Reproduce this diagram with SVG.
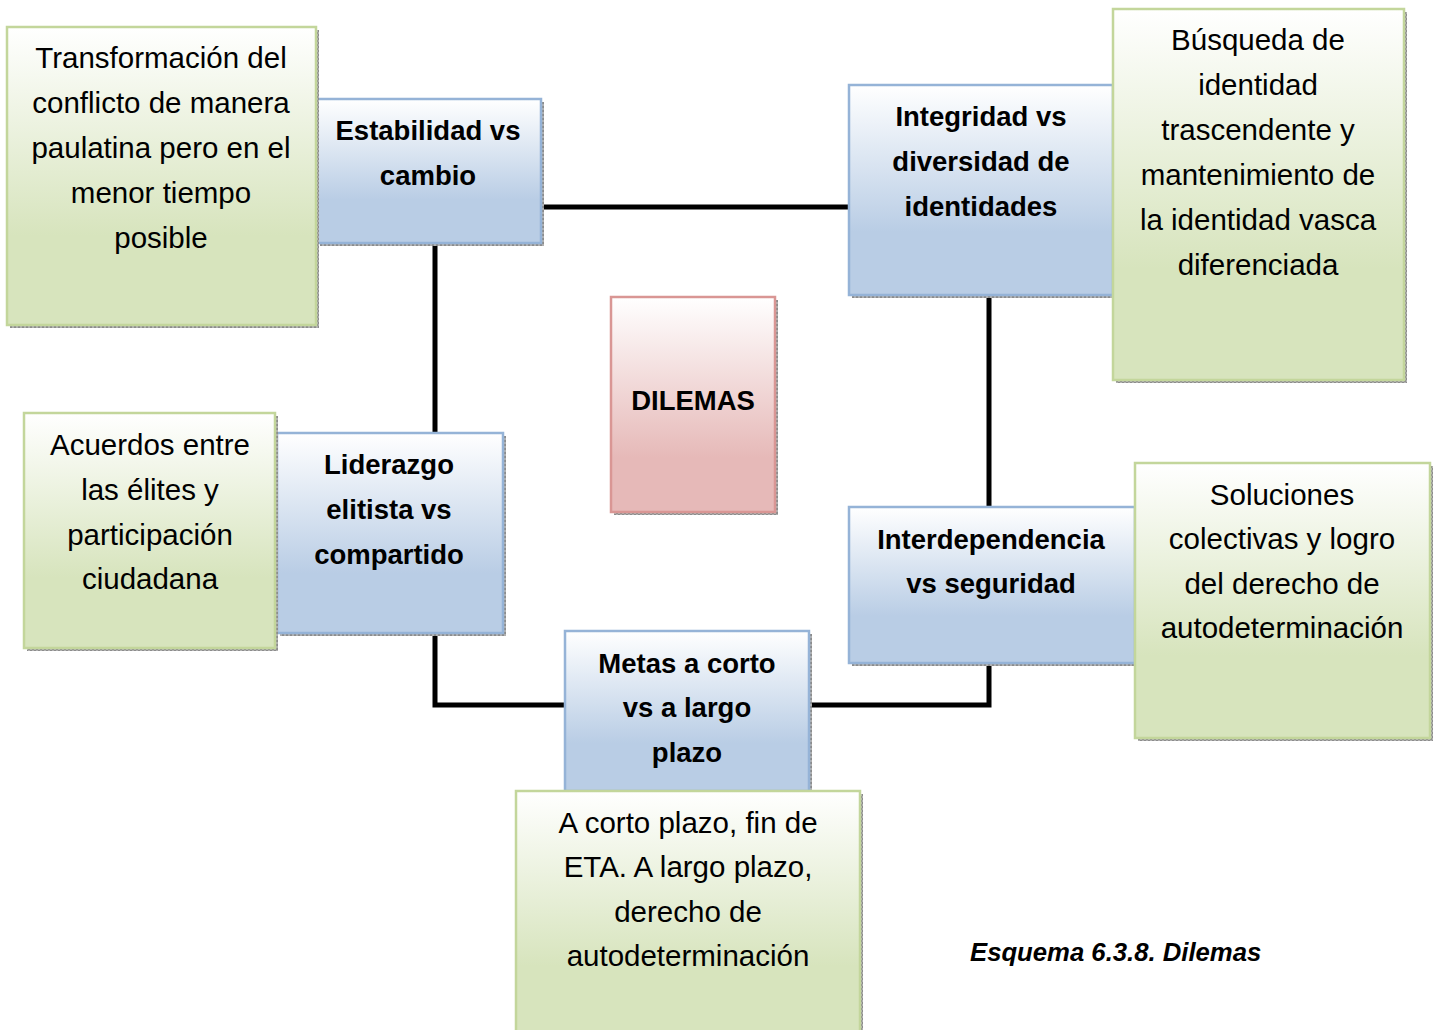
<svg xmlns="http://www.w3.org/2000/svg" width="1439" height="1030" viewBox="0 0 1439 1030">
<defs>
<linearGradient id="gBlue" x1="0" y1="0" x2="0" y2="1">
<stop offset="0" stop-color="#ffffff"/><stop offset="0.7" stop-color="#b9cde5"/><stop offset="1" stop-color="#b9cde5"/>
</linearGradient>
<linearGradient id="gGreen" x1="0" y1="0" x2="0" y2="1">
<stop offset="0" stop-color="#ffffff"/><stop offset="0.7" stop-color="#d7e4bd"/><stop offset="1" stop-color="#d7e4bd"/>
</linearGradient>
<linearGradient id="gRed" x1="0" y1="0" x2="0" y2="1">
<stop offset="0" stop-color="#ffffff"/><stop offset="0.75" stop-color="#e6b9b8"/><stop offset="1" stop-color="#e6b9b8"/>
</linearGradient>
<pattern id="hatch" width="4" height="4" patternUnits="userSpaceOnUse">
<rect width="4" height="4" fill="#b0b0b0"/><rect width="2" height="2" fill="#8c8c8c"/><rect x="2" y="2" width="2" height="2" fill="#8c8c8c"/>
</pattern>
</defs>
<style>
.sh{fill:url(#hatch);}
.blue{fill:url(#gBlue);stroke:#95b3d7;stroke-width:2.5;}
.green{fill:url(#gGreen);stroke:#c3d69b;stroke-width:2.5;}
.red{fill:url(#gRed);stroke:#d99694;stroke-width:2.5;}
.t{font-family:"Liberation Sans",Arial,sans-serif;font-size:29.5px;fill:#000;text-anchor:middle;}
.b{font-family:"Liberation Sans",Arial,sans-serif;font-size:27.5px;font-weight:bold;fill:#000;text-anchor:middle;}
.conn{fill:none;stroke:#000;stroke-width:5;stroke-linejoin:miter;}
</style>
<rect width="1439" height="1030" fill="#ffffff"/>

<g id="connectors">
<line class="conn" x1="541" y1="207" x2="849" y2="207"/>
<line class="conn" x1="435" y1="243" x2="435" y2="433"/>
<line class="conn" x1="989" y1="295" x2="989" y2="507"/>
<polyline class="conn" points="435,633 435,705 565,705"/>
<polyline class="conn" points="809,705 989,705 989,663"/>
</g>

<g id="n-estabilidad">
<rect class="sh" x="320" y="102" width="224" height="144"/>
<rect class="blue" x="317" y="99" width="224" height="144"/>
<text class="b" x="428" y="140">Estabilidad vs</text>
<text class="b" x="428" y="185">cambio</text>
</g>

<g id="n-transformacion">
<rect class="sh" x="10" y="30" width="309" height="298"/>
<rect class="green" x="7" y="27" width="309" height="298"/>
<text class="t" x="161" y="68">Transformación del</text>
<text class="t" x="161" y="113">conflicto de manera</text>
<text class="t" x="161" y="158">paulatina pero en el</text>
<text class="t" x="161" y="203">menor tiempo</text>
<text class="t" x="161" y="248">posible</text>
</g>

<g id="n-integridad">
<rect class="sh" x="852" y="88" width="264" height="210"/>
<rect class="blue" x="849" y="85" width="264" height="210"/>
<text class="b" x="981" y="126">Integridad vs</text>
<text class="b" x="981" y="171">diversidad de</text>
<text class="b" x="981" y="216">identidades</text>
</g>

<g id="n-busqueda">
<rect class="sh" x="1116" y="12" width="291" height="371"/>
<rect class="green" x="1113" y="9" width="291" height="371"/>
<text class="t" x="1258" y="50">Búsqueda de</text>
<text class="t" x="1258" y="95">identidad</text>
<text class="t" x="1258" y="140">trascendente y</text>
<text class="t" x="1258" y="185">mantenimiento de</text>
<text class="t" x="1258" y="230">la identidad vasca</text>
<text class="t" x="1258" y="275">diferenciada</text>
</g>

<g id="n-dilemas">
<rect class="sh" x="614" y="300" width="164" height="215"/>
<rect class="red" x="611" y="297" width="164" height="215"/>
<text class="b" x="693" y="410">DILEMAS</text>
</g>

<g id="n-liderazgo">
<rect class="sh" x="280" y="436" width="226" height="200"/>
<rect class="blue" x="277" y="433" width="226" height="200"/>
<text class="b" x="389" y="474">Liderazgo</text>
<text class="b" x="389" y="519">elitista vs</text>
<text class="b" x="389" y="564">compartido</text>
</g>

<g id="n-acuerdos">
<rect class="sh" x="27" y="416" width="251" height="235"/>
<rect class="green" x="24" y="413" width="251" height="235"/>
<text class="t" x="150" y="455">Acuerdos entre</text>
<text class="t" x="150" y="500">las élites y</text>
<text class="t" x="150" y="545">participación</text>
<text class="t" x="150" y="589">ciudadana</text>
</g>

<g id="n-interdependencia">
<rect class="sh" x="852" y="510" width="286" height="156"/>
<rect class="blue" x="849" y="507" width="286" height="156"/>
<text class="b" x="991" y="549">Interdependencia</text>
<text class="b" x="991" y="593">vs seguridad</text>
</g>

<g id="n-soluciones">
<rect class="sh" x="1138" y="466" width="295" height="275"/>
<rect class="green" x="1135" y="463" width="295" height="275"/>
<text class="t" x="1282" y="505">Soluciones</text>
<text class="t" x="1282" y="549">colectivas y logro</text>
<text class="t" x="1282" y="594">del derecho de</text>
<text class="t" x="1282" y="638">autodeterminación</text>
</g>

<g id="n-metas">
<rect class="sh" x="568" y="634" width="244" height="160"/>
<rect class="blue" x="565" y="631" width="244" height="160"/>
<text class="b" x="687" y="673">Metas a corto</text>
<text class="b" x="687" y="717">vs a largo</text>
<text class="b" x="687" y="762">plazo</text>
</g>

<g id="n-acorto">
<rect class="sh" x="519" y="794" width="344" height="250"/>
<rect class="green" x="516" y="791" width="344" height="250"/>
<text class="t" x="688" y="833">A corto plazo, fin de</text>
<text class="t" x="688" y="877">ETA. A largo plazo,</text>
<text class="t" x="688" y="922">derecho de</text>
<text class="t" x="688" y="966">autodeterminación</text>
</g>

<g id="caption">
<text x="970" y="961" style="font-family:'Liberation Sans',Arial,sans-serif;font-size:25.7px;font-weight:bold;font-style:italic;fill:#000;">Esquema 6.3.8. Dilemas</text>
</g>
</svg>
